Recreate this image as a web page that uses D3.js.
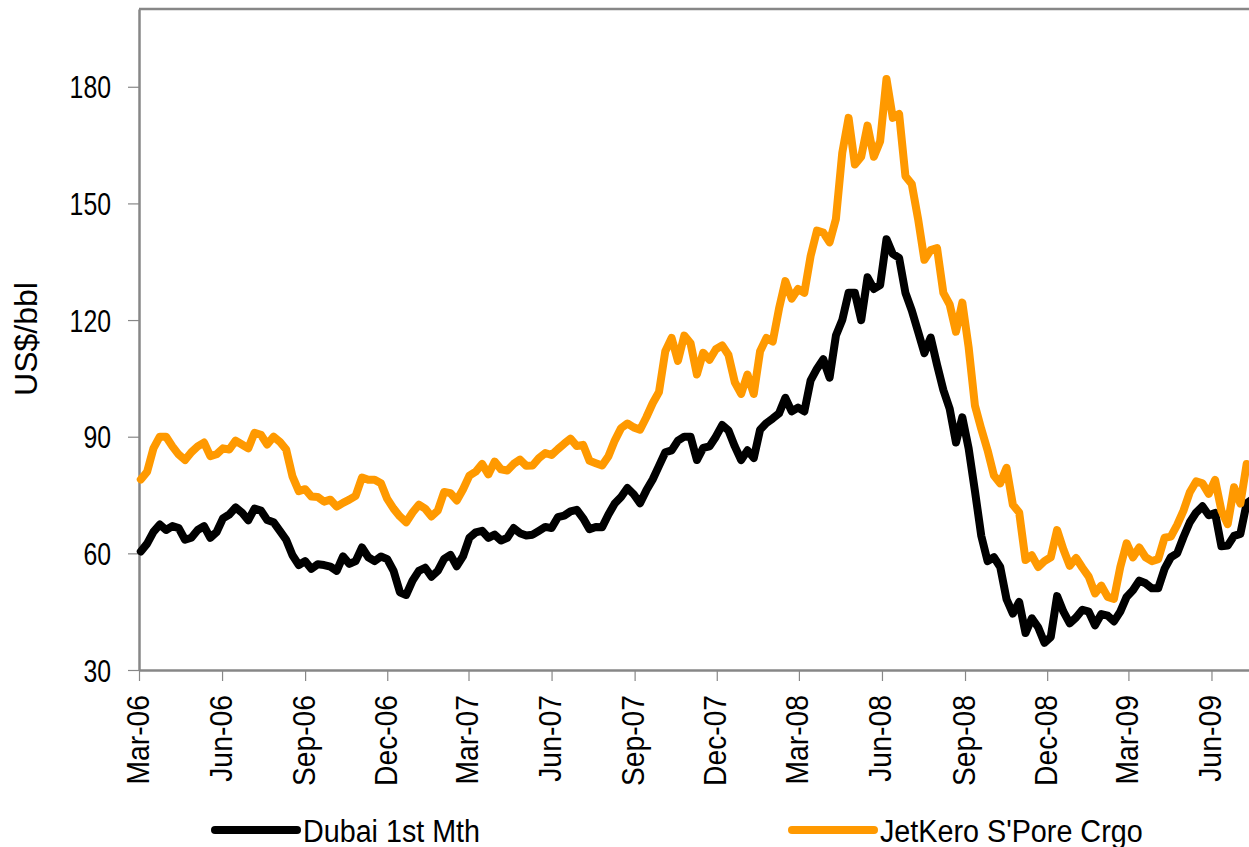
<!DOCTYPE html>
<html>
<head>
<meta charset="utf-8">
<script src="https://cdn.jsdelivr.net/npm/d3@7"></script>
<style>
  body { margin: 0; background: #fff; }
  svg { display: block; }
  .tick text { font-family: "Liberation Sans", Arial, sans-serif; fill: #000; }
</style>
</head>
<body>
<script>
//Width and height
var w = 1249;
var h = 847;
var margin = {top: 9, left: 139, bottom: 177};

//Weekly closes (Fridays), first one 3 Mar 2006
var firstWeek = new Date(2006, 2, 3);
var lastWeek = new Date(2009, 6, 17);

//Dubai 1st month, US$/bbl
var dubai = [
  60.5, 62.5, 65.5, 67.4, 66, 67, 66.5, 63.5, 64, 66,
  67, 64, 65.5, 69, 70, 71.8, 70.5, 68.5, 71.5, 71,
  68.6, 68, 65.8, 63.5, 59.5, 57, 58, 56, 57.2, 57,
  56.6, 55.5, 59.2, 57.3, 58, 61.5, 59, 58, 59.2, 58.5,
  55.5, 50, 49.3, 53, 55.5, 56.3, 54, 55.5, 58.6, 59.6,
  56.7, 59.3, 64, 65.4, 65.8, 64, 64.8, 63.3, 64, 66.5,
  65.2, 64.6, 64.8, 65.8, 66.8, 66.5, 69.3, 69.7, 70.8, 71.2,
  69, 66.2, 66.8, 66.7, 70, 72.8, 74.5, 76.8, 75.2, 72.9,
  76.2, 79, 82.5, 86, 86.5, 89, 90, 90, 84, 87.1,
  87.5, 90, 93, 91.6, 87.5, 84, 86.5, 84.5, 91.8, 93.5,
  94.7, 96, 100, 96.5, 97.5, 96.5, 104.5, 107.5, 109.9, 105.2,
  116, 120, 127, 127, 120, 131, 128, 129, 140.8, 137,
  136, 127, 122.5, 117, 111.5, 115.5, 108.5, 102, 97.2, 88.5,
  95, 87, 76, 64.5, 58, 59, 56.5, 48.2, 44.5, 47.5,
  39.5, 43.3, 41, 37, 38.5, 49, 45, 42, 43.5, 45.5,
  45, 41.5, 44.4, 44, 42.5, 45, 48.8, 50.5, 53, 52.3,
  51, 51, 56, 59, 60, 64.2, 68, 70.5, 72.1, 69.8,
  70.4, 61.8, 62, 64.5, 65, 72.9, 74
];

//Jet kero Singapore cargo, US$/bbl
var jetKero = [
  79, 81, 87, 90, 90, 87.5, 85.4, 84, 86, 87.5,
  88.5, 85, 85.5, 87, 86.7, 89, 88, 87, 91, 90.5,
  88, 90, 88.7, 86.7, 79.8, 76, 76.5, 74.6, 74.5, 73.3,
  73.8, 72, 73, 73.8, 74.8, 79.5, 78.9, 78.9, 78, 74,
  71.5, 69.5, 68, 70.5, 72.5, 71.5, 69.5, 71, 75.8, 75.5,
  73.6, 76.5, 80, 81, 83, 80.3, 83.6, 81.6, 81.3, 83,
  84.1, 82.5, 82.6, 84.5, 85.8, 85.3, 86.8, 88.2, 89.5, 87.6,
  87.9, 83.8, 83.2, 82.6, 85, 89, 92.2, 93.4, 92.4, 91.8,
  95, 98.6, 101.5, 112, 115.4, 109.5, 116, 114, 106, 111.6,
  109.8, 112.5, 113.5, 111, 104, 101, 106, 101, 112, 115.4,
  114.5, 123, 130, 125.5, 128, 127, 136.5, 143, 142.5, 140,
  146, 163, 172, 160, 162, 170, 162, 166, 182, 172,
  173, 157, 155, 146, 135.5, 138, 138.5, 127, 124, 117,
  124.5, 113, 98, 92, 86.5, 80, 78, 82, 72.5, 70.5,
  58.3, 59.5, 56.5, 58, 59, 66, 61, 56.8, 58.8, 56.3,
  54, 49.7, 51.7, 48.8, 48.3, 56.5, 62.6, 59, 61.5, 59,
  58, 58.5, 64, 64.3, 67.3, 71, 75.7, 78.5, 78, 75.3,
  78.9, 71, 67.5, 77, 72.8, 83, 82
];

var seriesNames = ["Dubai 1st Mth", "JetKero S'Pore Crgo"];
var seriesColors = ["#000000", "#ff9900"];

//Axis ticks
var yTicks = [30, 60, 90, 120, 150, 180];
var xTickMonths = ["2006-03", "2006-06", "2006-09", "2006-12", "2007-03", "2007-06", "2007-09",
  "2007-12", "2008-03", "2008-06", "2008-09", "2008-12", "2009-03", "2009-06"];

var weeks = d3.timeFriday.range(firstWeek, d3.timeDay.offset(lastWeek, 1));
var parseMonth = d3.timeParse("%Y-%m");
var fmtMonth = d3.timeFormat("%b-%y");

var series = [dubai, jetKero].map(function(vals, k) {
  return {
    name: seriesNames[k],
    color: seriesColors[k],
    values: vals.map(function(v, i) { return {date: weeks[i], value: v}; })
  };
});

//Squeeze text into a condensed look (no condensed face installed)
function condense(sel, squeeze, spacing) {
  sel.each(function() {
    var len = this.getComputedTextLength();
    var n = this.textContent.length;
    d3.select(this)
      .attr("textLength", len * squeeze + spacing * (n - 1))
      .attr("lengthAdjust", "spacingAndGlyphs");
  });
}

//Scales
var xScale = d3.scaleTime()
  .domain([new Date(2006, 2, 1), new Date(2009, 6, 17)])
  .range([margin.left, 1253]);

var yScale = d3.scaleLinear()
  .domain([30, 200])
  .range([h - margin.bottom, margin.top]);

var svg = d3.select("body").append("svg")
  .attr("width", w)
  .attr("height", h);

var axisColor = "#878787";
var plotRight = w + 5;

//Plot border (top), left + bottom come from axes
svg.append("line")
  .attr("x1", margin.left).attr("x2", plotRight)
  .attr("y1", yScale(200)).attr("y2", yScale(200))
  .attr("stroke", axisColor).attr("stroke-width", 2.5);

//Y axis
var yAxis = svg.append("g")
  .attr("transform", "translate(" + margin.left + ",0)")
  .call(d3.axisLeft(yScale).tickValues(yTicks).tickSize(11).tickPadding(17).tickSizeOuter(0));
yAxis.select(".domain").attr("stroke", axisColor).attr("stroke-width", 2.5);
yAxis.selectAll(".tick line").attr("stroke", axisColor).attr("stroke-width", 1.2);
yAxis.selectAll(".tick text").attr("font-size", 31).attr("dy", "0.36em").call(condense, 0.8, 0);

//X axis
var xAxis = svg.append("g")
  .attr("transform", "translate(0," + (h - margin.bottom) + ")")
  .call(d3.axisBottom(xScale)
    .tickValues(xTickMonths.map(parseMonth))
    .tickFormat(fmtMonth)
    .tickSize(11)
    .tickSizeOuter(0));
xAxis.select(".domain").attr("stroke", axisColor).attr("stroke-width", 2.5);
xAxis.selectAll(".tick line").attr("stroke", axisColor).attr("stroke-width", 1.2);
xAxis.selectAll(".tick text")
  .attr("font-size", 31)
  .attr("text-anchor", "end")
  .attr("transform", "translate(0,25) rotate(-90)")
  .attr("x", 0)
  .attr("y", 0)
  .attr("dy", "0.29em")
  .call(condense, 0.8, 2.2);

//Y axis title
svg.append("text")
  .attr("transform", "translate(37," + 339 + ") rotate(-90)")
  .attr("text-anchor", "middle")
  .attr("font-family", "'Liberation Sans', Arial, sans-serif")
  .attr("font-size", 32)
  .text("US$/bbl");

//Lines
var line = d3.line()
  .x(function(d) { return xScale(d.date); })
  .y(function(d) { return yScale(d.value); });

svg.append("g").selectAll("path")
  .data(series)
  .enter().append("path")
  .attr("d", function(d) { return line(d.values); })
  .attr("fill", "none")
  .attr("stroke", function(d) { return d.color; })
  .attr("stroke-width", 8)
  .attr("stroke-linejoin", "round")
  .attr("stroke-linecap", "round");

//Legend
var legendX = [215, 792];
var legend = svg.append("g").selectAll("g")
  .data(series)
  .enter().append("g")
  .attr("transform", function(d, i) { return "translate(" + legendX[i] + ",830)"; });

legend.append("line")
  .attr("x1", 0).attr("x2", 82)
  .attr("stroke", function(d) { return d.color; })
  .attr("stroke-width", 8)
  .attr("stroke-linecap", "round");

legend.append("text")
  .attr("x", 88)
  .attr("y", 11.5)
  .attr("font-family", "'Liberation Sans', Arial, sans-serif")
  .attr("font-size", 31)
  .text(function(d) { return d.name; })
  .call(condense, 0.8, 2);
</script>
</body>
</html>
